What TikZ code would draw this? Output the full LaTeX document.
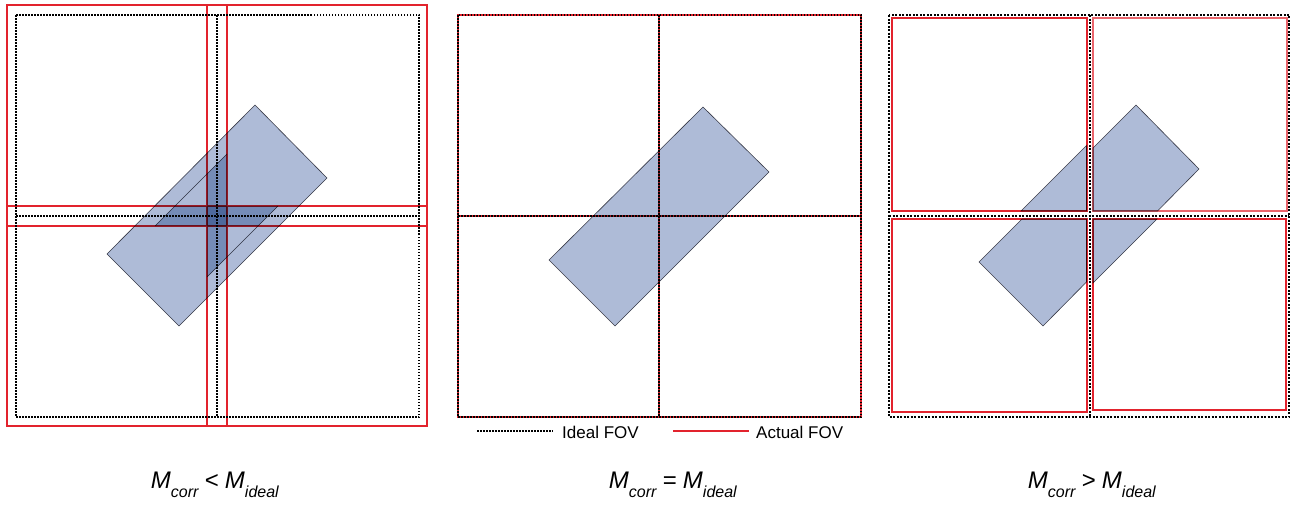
\documentclass[tikz,border=0pt]{standalone}
\usepackage{fontspec}
\setmainfont{Liberation Sans}
\definecolor{fovred}{RGB}{226,35,45}
\definecolor{samplefill}{RGB}{174,187,215}
\definecolor{overlapfill}{RGB}{172,192,218}
\definecolor{edgegray}{RGB}{70,70,80}
% magnification label: M_sub1 <rel> M_sub2
\newcommand{\maglabel}[1]{\textit{M}\raisebox{-9pt}{\fontsize{16}{16}\selectfont\textit{corr}}\hspace{6pt}#1\hspace{6pt}\textit{M}\raisebox{-9pt}{\fontsize{16}{16}\selectfont\textit{ideal}}}
\begin{document}
\begin{tikzpicture}[x=1pt,y=-1pt,
  ideal/.style={draw=black, line width=1.3pt, dash pattern=on 1.5pt off 1.5pt},
  idealbold/.style={draw=black, line width=2pt, dash pattern=on 2pt off 1.5pt},
  actual/.style={draw=fovred, line width=2pt},
  actualthin/.style={draw=fovred, line width=1.2pt},
  sample/.style={fill=samplefill, draw=edgegray, line width=0.6pt},
  overlap/.style={fill=overlapfill},
  edge/.style={draw=edgegray, line width=0.6pt},
  legendtext/.style={font=\fontsize{17}{17}\selectfont, inner sep=0pt, anchor=base west},
  caption/.style={font=\fontsize{24}{24}\selectfont, inner sep=0pt, anchor=base}]
\useasboundingbox (0,0) rectangle (1290,506);

% ---------- left panel: overlapping tiles ----------
\draw[actual] (7,5) rectangle (227,226);
\draw[actual] (207,5) rectangle (427,226);
\draw[actual] (7,206) rectangle (227,426);
\draw[actual] (207,206) rectangle (427,426);
\draw[ideal] (16,15) rectangle (419,417);
\draw[ideal] (217,15) -- (217,417);
\draw[ideal] (16,216) -- (419,216);
\begin{scope}[blend mode=multiply]
  \path[sample] (255,105) -- (327,178) -- (179,326) -- (107,254) -- cycle;
  \path[overlap] (207,174) -- (227,154) -- (227,257) -- (207,277) -- cycle;
  \path[overlap] (155,226) -- (175,206) -- (278,206) -- (258,226) -- cycle;
  \coordinate (a1) at (227,154);
  \coordinate (a2) at (155,226);
  \coordinate (b1) at (278,206);
  \coordinate (b2) at (207,277);
  \draw[edge] (a1) -- (a2);
  \draw[edge] (b1) -- (b2);
\end{scope}

% ---------- middle panel: tiles match ----------
\draw[actualthin] (458,15) rectangle (861,417);
\draw[actualthin] (659,15) -- (659,417);
\draw[actualthin] (458,216) -- (861,216);
\draw[ideal] (458,15) rectangle (861,417);
\draw[ideal] (659,15) -- (659,417);
\draw[ideal] (458,216) -- (861,216);
\begin{scope}[blend mode=multiply]
  \path[sample] (703,107) -- (769,172) -- (615,326) -- (549,260) -- cycle;
\end{scope}

% legend
\coordinate (li1) at (477,431);
\coordinate (li2) at (553,431);
\coordinate (la1) at (673,431);
\coordinate (la2) at (749,431);
\draw[ideal] (li1) -- (li2);
\draw[draw=fovred, line width=1.6pt] (la1) -- (la2);
\node[legendtext] (idealtext) at (562,438) {Ideal FOV};
\node[legendtext] (actualtext) at (756,438) {Actual FOV};

% ---------- right panel: gaps between tiles ----------
\draw[idealbold] (889,15) rectangle (1289,417);
\draw[idealbold] (1090,15) -- (1090,417);
\draw[idealbold] (889,216) -- (1289,216);
\draw[draw=fovred, line width=2pt] (892,18) rectangle (1086.5,211);
\draw[draw=fovred!70, line width=1.1pt] (1093,18) rectangle (1287,211);
\draw[draw=fovred, line width=2pt] (892,219) rectangle (1086.5,412);
\draw[draw=fovred, line width=1.5pt] (1093,219) rectangle (1286,410);
\begin{scope}[blend mode=multiply]
  \path[sample] (1021,211) -- (1086.5,145.5) -- (1086.5,211) -- cycle;
  \path[sample] (1093,148) -- (1136,105) -- (1199,169) -- (1157.5,211) -- (1093,211) -- cycle;
  \path[sample] (1022,219) -- (1086.5,219) -- (1086.5,282) -- (1043,326) -- (979,262) -- cycle;
  \path[sample] (1093,219) -- (1157,219) -- (1093,283) -- cycle;
\end{scope}

% ---------- captions ----------
\node[caption] (c1) at (215,488) {\maglabel{<}};
\node[caption] (c2) at (673,488) {\maglabel{=}};
\node[caption] (c3) at (1092,488) {\maglabel{>}};
\end{tikzpicture}
\end{document}
